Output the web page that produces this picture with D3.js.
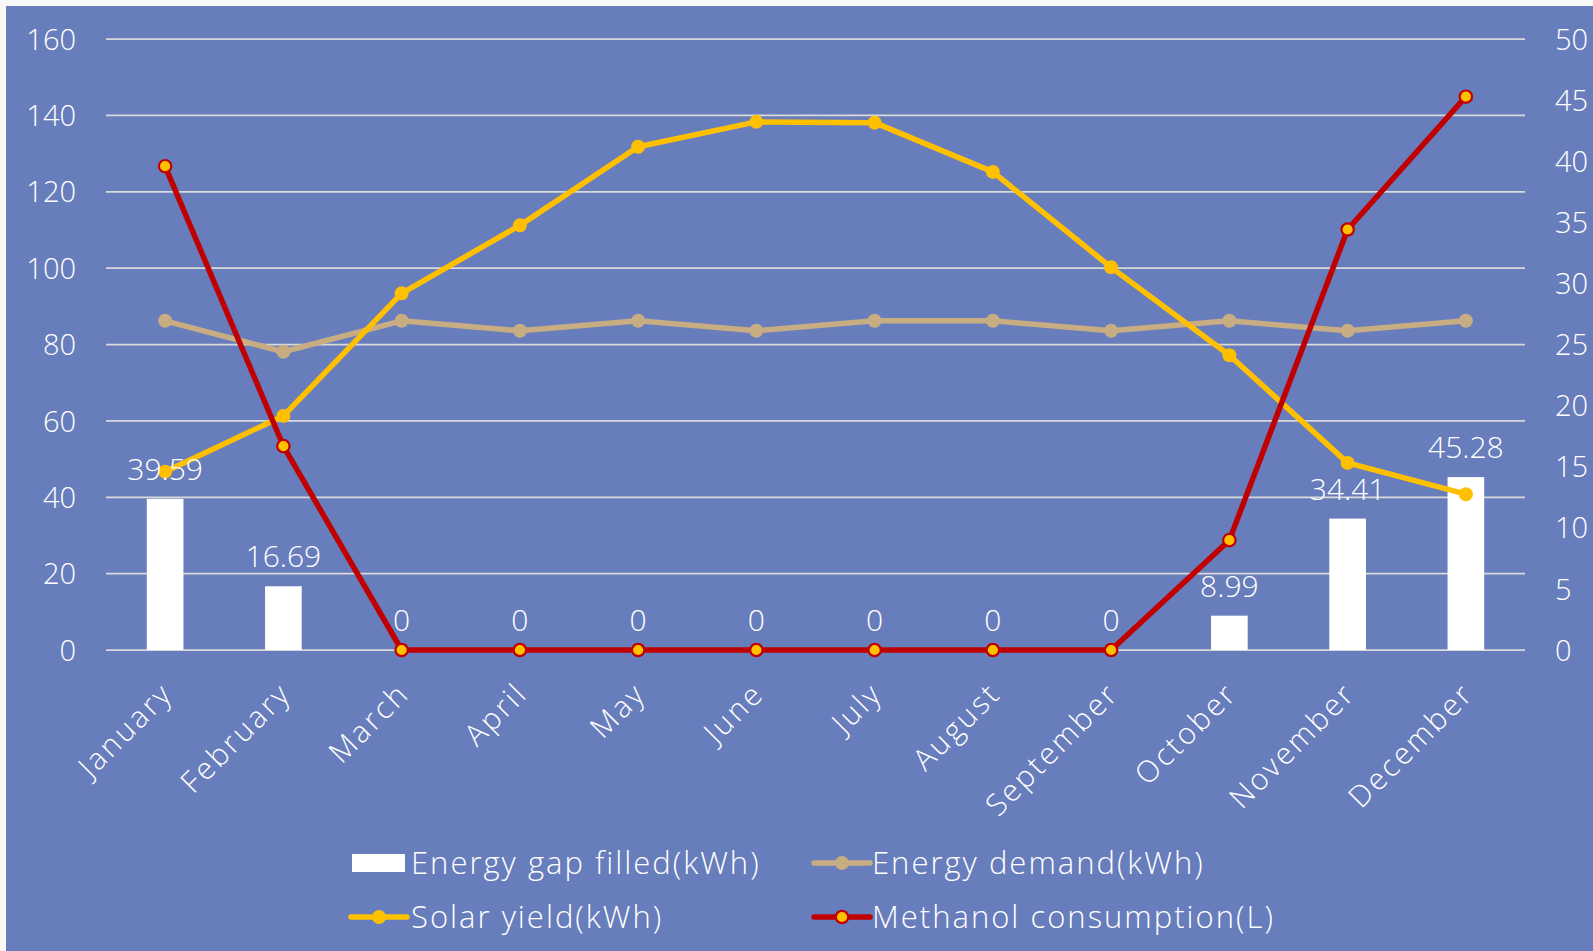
<!DOCTYPE html>
<html>
<head>
<meta charset="utf-8">
<script src="https://cdn.jsdelivr.net/npm/d3@7"></script>
<style>
  html, body { margin: 0; padding: 0; background: #F8F8F8; }
  svg { display: block; }
  text { font-family: "Century Gothic", "Open Sans", sans-serif; fill: #FFFFFF; font-weight: 300; }
</style>
</head>
<body>
<svg id="chart" width="1593" height="951"></svg>
<script>
const months = ["January","February","March","April","May","June","July","August","September","October","November","December"];
const gapFilled = [39.59, 16.69, 0, 0, 0, 0, 0, 0, 0, 8.99, 34.41, 45.28];
const demand = [86.2, 78.1, 86.2, 83.6, 86.2, 83.6, 86.2, 86.2, 83.6, 86.2, 83.6, 86.2];
const solar = [46.7, 61.3, 93.4, 111.2, 131.8, 138.3, 138.1, 125.2, 100.2, 77.2, 49.0, 40.8];
const methanol = [39.59, 16.69, 0, 0, 0, 0, 0, 0, 0, 8.99, 34.41, 45.28];
const leftTicks = [0, 20, 40, 60, 80, 100, 120, 140, 160];
const rightTicks = [0, 5, 10, 15, 20, 25, 30, 35, 40, 45, 50];
const seriesNames = ["Energy gap filled(kWh)", "Energy demand(kWh)", "Solar yield(kWh)", "Methanol consumption(L)"];

const W = 1593, H = 951;
const plot = { left: 106, right: 1525, top: 39, bottom: 650 };
const FS_TICK = 29, FS_LABEL = 30, FS_WORD = 30, FS_LEG = 31;
const LS_WORD = "2px", LS_MONTH = "2.6px";
const BG = "#687DBB", GRID = "#D9D9D9", YELLOW = "#FFC000", TAN = "#C9AD82", RED = "#C00000";
const LW = 5.5, MR = 7;

const svg = d3.select("#chart");
svg.append("rect").attr("x", 6).attr("y", 6).attr("width", W - 6).attr("height", H - 6).attr("fill", BG);

const x = d3.scaleBand().domain(months).range([plot.left, plot.right]).padding(0);
const cx = m => x(m) + x.bandwidth() / 2;
const yL = d3.scaleLinear().domain([0, 160]).range([plot.bottom, plot.top]);
const yR = d3.scaleLinear().domain([0, 50]).range([plot.bottom, plot.top]);

// gridlines
svg.append("g").selectAll("line").data(leftTicks).join("line")
  .attr("x1", plot.left).attr("x2", plot.right)
  .attr("y1", d => yL(d)).attr("y2", d => yL(d))
  .attr("stroke", GRID).attr("stroke-width", 1.75);

// left axis labels
const axL = svg.append("g").attr("transform", `translate(${plot.left},0)`)
  .call(d3.axisLeft(yL).tickValues(leftTicks).tickSize(0).tickPadding(30).tickFormat(d3.format("d")));
axL.select(".domain").remove();
axL.selectAll("text").attr("font-size", FS_TICK).attr("fill", "#fff").attr("font-family", null).attr("dy", "0.35em");

// right axis labels
const axR = svg.append("g").attr("transform", `translate(${plot.right},0)`)
  .call(d3.axisRight(yR).tickValues(rightTicks).tickSize(0).tickPadding(30).tickFormat(d3.format("d")));
axR.select(".domain").remove();
axR.selectAll("text").attr("font-size", FS_TICK).attr("fill", "#fff").attr("font-family", null).attr("dy", "0.35em");

// x axis labels
const axX = svg.append("g").attr("transform", `translate(0,${plot.bottom})`)
  .call(d3.axisBottom(x).tickSize(0).tickPadding(0));
axX.select(".domain").remove();
axX.selectAll("text")
  .attr("font-size", FS_WORD).attr("fill", "#fff").attr("font-family", null)
  .style("letter-spacing", LS_MONTH)
  .attr("text-anchor", "end").attr("y", 0).attr("dy", "0.35em")
  .attr("transform", "translate(2,38) rotate(-45)");

// bars
const barW = x.bandwidth() * 0.31;
svg.append("g").selectAll("rect").data(gapFilled).join("rect")
  .attr("x", (d, i) => cx(months[i]) - barW / 2)
  .attr("y", d => yL(d))
  .attr("width", barW)
  .attr("height", d => yL(0) - yL(d))
  .attr("fill", "#FFFFFF");

function drawLine(values, scale, color, markerFill, markerStroke) {
  const line = d3.line().x((d, i) => cx(months[i])).y(d => scale(d));
  svg.append("path").datum(values).attr("d", line)
    .attr("fill", "none").attr("stroke", color).attr("stroke-width", LW)
    .attr("stroke-linejoin", "round").attr("stroke-linecap", "round");
  svg.append("g").selectAll("circle").data(values).join("circle")
    .attr("cx", (d, i) => cx(months[i])).attr("cy", d => scale(d))
    .attr("r", markerStroke ? MR - 0.8 : MR)
    .attr("fill", markerFill)
    .attr("stroke", markerStroke || "none").attr("stroke-width", markerStroke ? 2.2 : 0);
}
drawLine(demand, yL, TAN, TAN, null);
drawLine(solar, yL, YELLOW, YELLOW, null);
drawLine(methanol, yR, RED, YELLOW, RED);

// data labels
svg.append("g").selectAll("text").data(gapFilled).join("text")
  .attr("x", (d, i) => cx(months[i]))
  .attr("y", d => yL(d) - 19)
  .attr("text-anchor", "middle")
  .attr("font-size", FS_LABEL)
  .text(d => d3.format("")(d));

// legend
const lg = svg.append("g");
const row1 = 863, row2 = 917;
function legText(x0, y0, t) {
  lg.append("text").attr("x", x0).attr("y", y0).attr("dy", "0.35em")
    .attr("font-size", FS_LEG).style("letter-spacing", LS_WORD).text(t);
}
function legLine(x0, y0, color, fill, stroke) {
  lg.append("line").attr("x1", x0).attr("x2", x0 + 56).attr("y1", y0).attr("y2", y0)
    .attr("stroke", color).attr("stroke-width", LW).attr("stroke-linecap", "round");
  lg.append("circle").attr("cx", x0 + 28).attr("cy", y0).attr("r", stroke ? MR - 0.8 : MR)
    .attr("fill", fill).attr("stroke", stroke || "none").attr("stroke-width", stroke ? 2.2 : 0);
}
lg.append("rect").attr("x", 352).attr("y", row1 - 9).attr("width", 53).attr("height", 18).attr("fill", "#fff");
legText(411, row1, seriesNames[0]);
legLine(351, row2, YELLOW, YELLOW, null);
legText(411, row2, seriesNames[2]);
legLine(814, row1, TAN, TAN, null);
legText(872, row1, seriesNames[1]);
legLine(814, row2, RED, YELLOW, RED);
legText(872, row2, seriesNames[3]);
</script>
</body>
</html>
